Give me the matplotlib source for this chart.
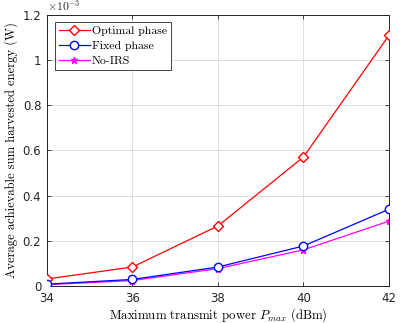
import matplotlib
matplotlib.use("Agg")
import matplotlib.pyplot as plt
import numpy as np

power_dbm = [34, 36, 38, 40, 42]
optimal_phase = [0.031e-3, 0.084e-3, 0.266e-3, 0.571e-3, 1.11e-3]
fixed_phase = [0.008e-3, 0.029e-3, 0.084e-3, 0.177e-3, 0.340e-3]
no_irs = [0.006e-3, 0.024e-3, 0.077e-3, 0.160e-3, 0.287e-3]
yticks = [0, 0.2e-3, 0.4e-3, 0.6e-3, 0.8e-3, 1.0e-3, 1.2e-3]
ytick_labels = ["0", "0.2", "0.4", "0.6", "0.8", "1", "1.2"]

plt.rcParams['mathtext.fontset'] = 'cm'

fig = plt.figure(figsize=(4.01, 3.23), dpi=100)
ax = fig.add_axes([0.117, 0.1146, 0.853, 0.839])

ax.plot(power_dbm, optimal_phase, color='#ff0000', marker='D', markersize=5,
        markerfacecolor='white', markeredgecolor='#ff0000', lw=0.9, label='Optimal phase', zorder=3)
ax.plot(power_dbm, fixed_phase, color='#0000ff', marker='o', markersize=6,
        markerfacecolor='white', markeredgecolor='#0000ff', lw=0.9, label='Fixed phase', zorder=3)
ax.plot(power_dbm, no_irs, color='#ff00ff', marker='*', markersize=5,
        markerfacecolor='#ff00ff', markeredgecolor='#ff00ff', lw=0.9, label='No-IRS', zorder=2)

ax.set_xlim(34, 42)
ax.set_ylim(0, 1.2e-3)
ax.set_xticks(power_dbm)
ax.set_xticklabels([str(p) for p in power_dbm], fontsize=8.5, color='#262626', family='DejaVu Sans')
ax.set_yticks(yticks)
ax.set_yticklabels(ytick_labels, fontsize=8.5, color='#262626', family='DejaVu Sans')
ax.grid(True, color='#e0e0e0', lw=0.7)
ax.set_axisbelow(True)
ax.tick_params(direction='in', top=True, right=True, length=3, width=0.6, pad=4,
               colors='#262626', labelcolor='#262626')
for s in ax.spines.values():
    s.set_color('#262626')
    s.set_linewidth(0.7)

ax.text(0.0, 1.0, r'$\mathsf{\times 10^{-3}}$', transform=ax.transAxes, fontsize=8.5,
        color='#262626', ha='left', va='bottom')

ax.set_xlabel(r'Maximum transmit power $P_{max}$ (dBm)', fontsize=9.2, family='cmr10', labelpad=1)
ax.set_ylabel('Average achievable sum harvested energy (W)', fontsize=9, family='cmr10', labelpad=3)

leg = ax.legend(loc='upper left', bbox_to_anchor=(0.02, 0.98), prop={'family': 'cmr10', 'size': 8.5},
                fancybox=False, edgecolor='#262626', framealpha=1, borderpad=0.35,
                labelspacing=0.4, handlelength=2.6, handletextpad=0.15, borderaxespad=0.1)
leg.get_frame().set_linewidth(0.6)

fig.savefig('out.png', dpi=100)
